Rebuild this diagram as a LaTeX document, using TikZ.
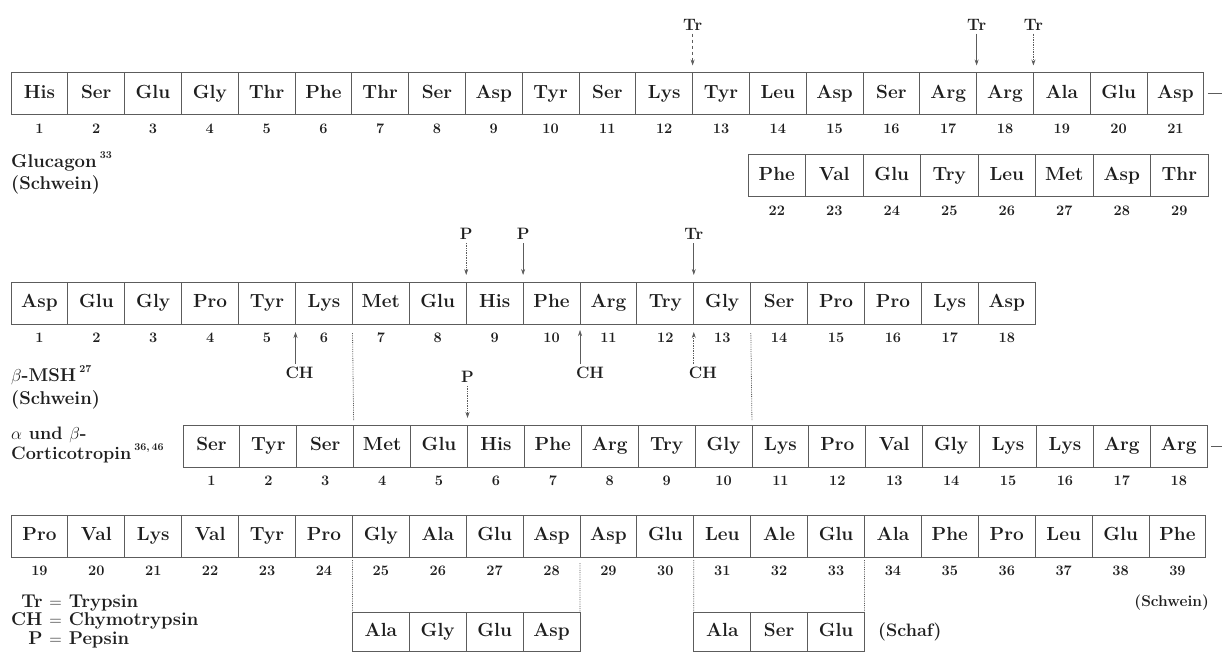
\documentclass[tikz,border=0pt]{standalone}
\usepackage{amsmath}
\usepackage{fontspec}
\usepackage{tikz}
\usetikzlibrary{arrows.meta, positioning}
\definecolor{inkColor}{HTML}{1E1E1E}
\definecolor{ruleColor}{HTML}{5C5C5C}

\newcommand{\refnum}[1]{\raisebox{0.5em}{\fontsize{10.5}{10.5}\selectfont #1}}
% prefix, left x, centre y, box width, first number, residues
\newcommand{\aminorow}[6]{%
  \foreach \res [count=\k from 0] in {#6} {
    \pgfmathtruncatemacro{\idx}{#5+\k}
    \node[res, minimum width=#4pt] (#1\idx) at ({#2+(\k+0.5)*#4}, {#3}) {\res};
    \node[num] (#1n\idx) at ({#2+(\k+0.5)*#4}, {#3+35}) {\idx};
  }}

\begin{document}
\begin{tikzpicture}[x=1pt, y=-1pt,
    res/.style={draw=ruleColor, line width=0.9pt, rectangle, minimum height=42pt,
      inner sep=0pt, outer sep=0pt, text height=13pt, text depth=4pt,
      font=\fontsize{19}{21}\selectfont\bfseries, text=inkColor},
    num/.style={font=\fontsize{14.5}{16}\selectfont\bfseries, text=inkColor},
    lbl/.style={font=\fontsize{18.5}{22.5}\selectfont\bfseries, text=inkColor,
      align=left, inner sep=0pt},
    enz/.style={font=\fontsize{16.5}{18}\selectfont\bfseries, text=inkColor, inner sep=1pt},
    cut/.style={-{Stealth[length=6pt,width=4pt]}, ruleColor, line width=0.7pt,
      shorten <=2pt, shorten >=7pt},
    link/.style={ruleColor, densely dotted, line width=0.8pt}]
  \useasboundingbox (0,0) rectangle (1222,651);

  % Glucagon
  \aminorow{g}{11}{93.5}{56.8}{1}{His,Ser,Glu,Gly,Thr,Phe,Thr,Ser,Asp,Tyr,Ser,Lys,Tyr,Leu,Asp,Ser,Arg,Arg,Ala,Glu,Asp}
  \aminorow{g}{748}{175.5}{57.5}{22}{Phe,Val,Glu,Try,Leu,Met,Asp,Thr}
  \coordinate (gTail) at (1222,93.5);
  \draw[ruleColor, line width=0.7pt, shorten <=4pt] (g21.east) -- (gTail);
  \node[lbl, anchor=north west] (glucLbl) at (11,151) {Glucagon\,\refnum{33}\\(Schwein)};

  \node[enz, above=41pt of g12.north east] (trA) {Tr};
  \node[enz, above=41pt of g17.north east] (trB) {Tr};
  \node[enz, above=41pt of g18.north east] (trC) {Tr};
  \draw[cut, dashed] (trA.south) -- (g12.north east);
  \draw[cut] (trB.south) -- (g17.north east);
  \draw[cut, densely dotted] (trC.south) -- (g18.north east);

  % beta-MSH
  \aminorow{m}{11}{303}{56.9}{1}{Asp,Glu,Gly,Pro,Tyr,Lys,Met,Glu,His,Phe,Arg,Try,Gly,Ser,Pro,Pro,Lys,Asp}
  \node[lbl, anchor=north west] (mshLbl) at (11,365) {$\beta$-MSH\,\refnum{27}\\(Schwein)};

  \node[enz, above=41pt of m8.north east] (pA) {P};
  \node[enz, above=41pt of m9.north east] (pB) {P};
  \node[enz, above=41pt of m12.north east] (trD) {Tr};
  \draw[cut, densely dotted] (pA.south) -- (m8.north east);
  \draw[cut] (pB.south) -- (m9.north east);
  \draw[cut] (trD.south) -- (m12.north east);

  \node[enz, below=42pt of m5.south east, xshift=4pt] (chA) {CH};
  \node[enz, below=42pt of m10.south east, xshift=10pt] (chB) {CH};
  \node[enz, below=42pt of m12.south east, xshift=9pt] (chC) {CH};
  \draw[cut, shorten >=8pt] (chA.north -| m5.south east) -- (m5.south east);
  \draw[cut, line width=0.5pt, shorten >=6pt] (chB.north -| m10.south east) -- (m10.south east);
  \draw[cut, densely dotted, shorten >=8pt] (chC.north -| m12.south east) -- (m12.south east);

  % Corticotropin
  \aminorow{c}{183}{446}{56.9}{1}{Ser,Tyr,Ser,Met,Glu,His,Phe,Arg,Try,Gly,Lys,Pro,Val,Gly,Lys,Lys,Arg,Arg}
  \aminorow{c}{11}{536}{56.9}{19}{Pro,Val,Lys,Val,Tyr,Pro,Gly,Ala,Glu,Asp,Asp,Glu,Leu,Ale,Glu,Ala,Phe,Pro,Leu,Glu,Phe}
  \coordinate (cTail) at (1222,446);
  \draw[ruleColor, line width=0.7pt, shorten <=4pt] (c18.east) -- (cTail);
  \node[lbl, anchor=north west, font=\fontsize{18}{18.5}\selectfont\bfseries] (corLbl) at (11,427)
    {$\alpha$ und $\beta$-\\Corticotropin\,\refnum{36,\,46}};

  \node[enz, above=41pt of c5.north east] (pC) {P};
  \draw[cut, densely dotted] (pC.south) -- (c5.north east);

  \draw[link, shorten <=9pt, shorten >=4pt] (m6.south east) -- (c3.north east);
  \draw[link, shorten <=9pt, shorten >=4pt] (m13.south east) -- (c10.north east);

  % sheep variants
  \foreach \res [count=\k] in {Ala,Gly,Glu,Asp}
    \node[res, minimum width=56.9pt, minimum height=39pt] (sa\k) at ({352.4+(\k-0.5)*56.9}, 631.5) {\res};
  \foreach \res [count=\k] in {Ala,Ser,Glu}
    \node[res, minimum width=56.9pt, minimum height=39pt] (sb\k) at ({693.8+(\k-0.5)*56.9}, 631.5) {\res};
  \draw[link, shorten <=3pt] (c24.south east) -- (sa1.north west);
  \draw[link, shorten <=6pt] (c28.south east) -- (sa4.north east);
  \draw[link, shorten <=3pt] (c30.south east) -- (sb1.north west);
  \draw[link, shorten <=3pt] (c33.south east) -- (sb3.north east);

  \node[text=inkColor, font=\fontsize{15.5}{17}\selectfont\bfseries, anchor=east, inner sep=0pt] (pigLbl) at (1209,603) {(Schwein)};
  \node[text=inkColor, font=\fontsize{18}{20}\selectfont\bfseries, anchor=west, inner sep=0pt] (sheepLbl) at (878,632) {(Schaf)};

  \node[lbl, anchor=north west, font=\fontsize{18.5}{18.5}\selectfont\bfseries] (legend) at (11,594)
    {\begin{tabular}{@{}r@{\ $=$\ }l@{}}Tr & Trypsin\\ CH & Chymotrypsin\\ P & Pepsin\end{tabular}};
\end{tikzpicture}
\end{document}
